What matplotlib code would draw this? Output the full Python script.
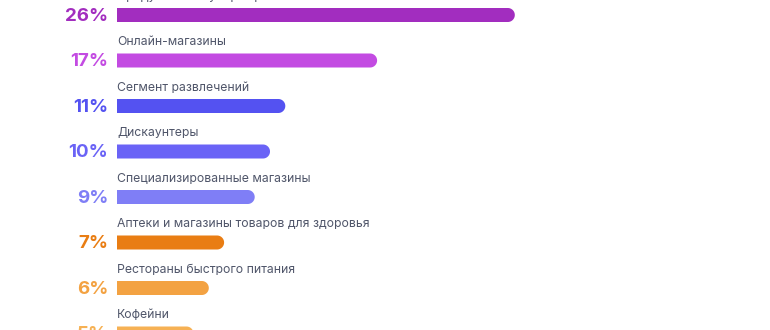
import numpy as np
import matplotlib.pyplot as plt
from matplotlib.patches import Polygon

# данные с картинки
categories = ['Продуктовые супермаркеты', 'Онлайн-магазины', 'Сегмент развлечений',
              'Дискаунтеры', 'Специализированные магазины',
              'Аптеки и магазины товаров для здоровья',
              'Рестораны быстрого питания', 'Кофейни']
values = [26, 17, 11, 10, 9, 7, 6, 5]
colors = ['#a22dbf', '#c34be2', '#5452f1', '#6a63f6', '#7f7ef6',
          '#e97d13', '#f3a242', '#f6b154']

W, H = 770, 330
px_per_pct = 15.3
x0_px = 117
row_px = 45.5
y0_px = 15

fig = plt.figure(figsize=(W / 100, H / 100), dpi=100)
ax = fig.add_axes([0, 0, 1, 1])
ax.set_xlim(-x0_px / px_per_pct, (W - x0_px) / px_per_pct)
ax.set_ylim((H - y0_px) / row_px, -y0_px / row_px)
ax.axis('off')

bar_h_px = 14
cap = (bar_h_px / 2) / px_per_pct
bar_h = bar_h_px / row_px
t = np.linspace(-np.pi / 2, np.pi / 2, 40)


def rounded_bar(y, v):
    # прямоугольник с закругленным правым краем
    xs = np.concatenate([[0], v - cap + cap * np.cos(t), [0]])
    ys = np.concatenate([[y - bar_h / 2], y + bar_h / 2 * np.sin(t), [y + bar_h / 2]])
    return np.column_stack([xs, ys])


for i, (name, v, c) in enumerate(zip(categories, values, colors)):
    ax.add_patch(Polygon(rounded_bar(i, v), closed=True, facecolor=c,
                         edgecolor='none'))
    ax.text(-9 / px_per_pct, i + 0.03, f'{v}%', ha='right', va='center',
            fontsize=13.5, fontweight='bold', color=c, family='Inter')
    ax.text(0, i - 0.40, name, ha='left', va='center', fontsize=8.8,
            color='#50566a', family='Inter')

fig.savefig('out.png', dpi=100)
